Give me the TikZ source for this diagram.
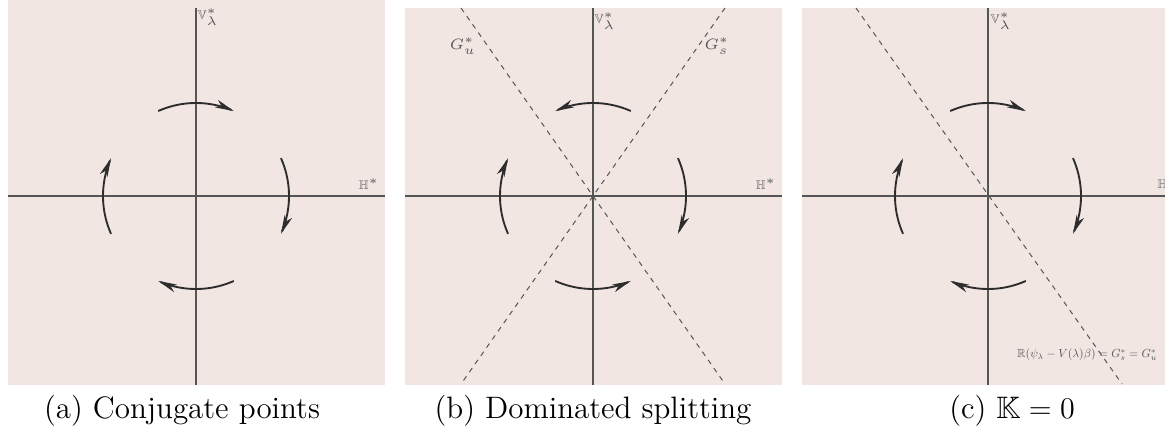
\documentclass[tikz,border=0pt]{standalone}
\usepackage{amssymb}
\usepackage{graphicx}
\usetikzlibrary{arrows.meta}
\definecolor{panelbg}{RGB}{242,230,227}
\definecolor{axiscol}{RGB}{85,85,85}
\definecolor{flowcol}{RGB}{45,45,45}
\tikzset{
  panel/.style={fill=panelbg, draw=none},
  axisline/.style={draw=axiscol, line width=0.55pt},
  flow/.style={draw=flowcol, line width=0.75pt, -{Stealth[length=7.5pt,width=3.2pt,inset=2pt]}},
  split/.style={draw=axiscol, line width=0.4pt, dash pattern=on 2pt off 2pt},
  smalllab/.style={font=\fontsize{5}{6}\selectfont, inner sep=0pt, text=axiscol},
  glab/.style={font=\fontsize{6}{7}\selectfont, inner sep=0pt, text=axiscol},
  caption/.style={font=\fontsize{12.4}{14}\selectfont, inner sep=0pt, anchor=base}
}
\begin{document}
\begin{tikzpicture}[x=0.4pt, y=-0.4pt]
\useasboundingbox (0,0) rectangle (1165,431);
% backgrounds
\fill[panel] (8,0) rectangle (385,385);
\fill[panel] (405,8) rectangle (782,385);
\fill[panel] (802,8) rectangle (1165,385);
% ---------- panel a ----------
\draw[axisline] (196,8) -- (196,385);
\draw[axisline] (8,196) -- (385,196);
\node[smalllab] (va) at (208,17) {$\mathbb{V}^*_\lambda$};
\node[smalllab] (ha) at (369,184) {$\mathbb{H}^*$};
\draw[flow] plot[domain=114:66, samples=30] ({196+93*cos(\x)},{196-93*sin(\x)});
\draw[flow] plot[domain=24:-24, samples=30] ({196+93*cos(\x)},{196-93*sin(\x)});
\draw[flow] plot[domain=-66:-114, samples=30] ({196+93*cos(\x)},{196-93*sin(\x)});
\draw[flow] plot[domain=204:156, samples=30] ({196+93*cos(\x)},{196-93*sin(\x)});
% ---------- panel b ----------
\draw[axisline] (593,8) -- (593,385);
\draw[axisline] (405,196) -- (782,196);
\draw[split] (461,8) -- (725,384);
\draw[split] (725,8) -- (461,384);
\node[smalllab] (vb) at (605,21) {$\mathbb{V}^*_\lambda$};
\node[smalllab] (hb) at (766,184) {$\mathbb{H}^*$};
\node[glab] (gu) at (463,46) {$G^*_u$};
\node[glab] (gs) at (717,46) {$G^*_s$};
\draw[flow] plot[domain=66:114, samples=30] ({593+93*cos(\x)},{196-93*sin(\x)});
\draw[flow] plot[domain=24:-24, samples=30] ({593+93*cos(\x)},{196-93*sin(\x)});
\draw[flow] plot[domain=-114:-66, samples=30] ({593+93*cos(\x)},{196-93*sin(\x)});
\draw[flow] plot[domain=204:156, samples=30] ({593+93*cos(\x)},{196-93*sin(\x)});
% ---------- panel c ----------
\draw[axisline] (988,8) -- (988,385);
\draw[axisline] (802,196) -- (1165,196);
\draw[split] (856,8) -- (1122,384);
\node[smalllab] (vc) at (1001,21) {$\mathbb{V}^*_\lambda$};
\node[smalllab, anchor=west] (hc) at (1157,184) {$\mathbb{H}$};
\node[inner sep=0pt, text=axiscol] (lc) at (1087,355) {\resizebox{56pt}{!}{$\mathbb{R}(\psi_\lambda - V(\lambda)\beta) = G^*_s = G^*_u$}};
\draw[flow] plot[domain=114:66, samples=30] ({988+93*cos(\x)},{196-93*sin(\x)});
\draw[flow] plot[domain=24:-24, samples=30] ({988+93*cos(\x)},{196-93*sin(\x)});
\draw[flow] plot[domain=-66:-114, samples=30] ({988+93*cos(\x)},{196-93*sin(\x)});
\draw[flow] plot[domain=204:156, samples=30] ({988+93*cos(\x)},{196-93*sin(\x)});
% captions
\node[caption] (ca) at (182,419) {(a) Conjugate points};
\node[caption] (cb) at (593,419) {(b) Dominated splitting};
\node[caption] (cc) at (1012,419) {(c) $\mathbb{K}=0$};
\end{tikzpicture}
\end{document}
